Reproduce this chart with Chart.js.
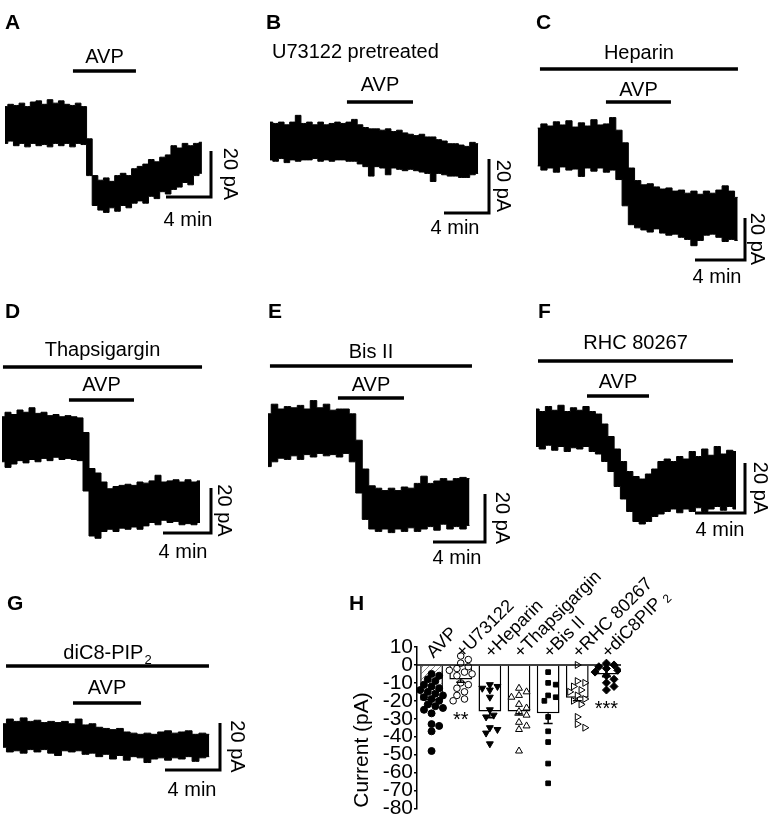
<!DOCTYPE html>
<html>
<head>
<meta charset="utf-8">
<script src="https://cdn.jsdelivr.net/npm/chart.js@4.4.1/dist/chart.umd.min.js"></script>
<style>
  body { margin: 0; background: #fff; }
  #fig { position: relative; width: 775px; height: 822px; overflow: hidden; }
  #fig canvas { position: absolute; }
</style>
</head>
<body>
<div id="fig"></div>
<script>
// ---- traces: upper / lower envelope of the current (pA), one sample every 0.5 min
const STEP_MIN = 0.5;
const SCALE_MIN = 4;   // horizontal scale bar
const SCALE_PA = 20;   // vertical scale bar

const upperA = [8,9,8.5,9.5,8,10,10.5,9,11,9.5,10.5,9,8.5,9.5,8,-6,-22,-24,-23,-24.5,-22,-21,-22,-19,-18,-17,-15,-16,-14,-13,-9,-10,-8,-9,-8,-7.5];
const lowerA = [-8,-7,-9,-8,-9.5,-8,-9,-8.5,-9.5,-8,-9,-8,-9.5,-8,-8.5,-22,-35,-37,-38,-36,-37.5,-35,-36,-34,-33,-34,-31,-32,-29,-30,-28,-27,-25,-26,-22,-21];

const upperB = [7,6.5,7,6,7,9.5,6.5,7,6,7,6,6.5,7,6.5,7,8,6,5,4.5,4.5,4,4.5,3.5,4,3,2.5,2,2.5,1.5,1.5,0.5,0,-1,-1,-1.5,-2,-0.5,-1];
const lowerB = [-7,-7.5,-6.5,-8,-7,-7.5,-7,-7,-6.5,-7.5,-7,-7.5,-7,-7,-7.5,-7.5,-8.5,-9.5,-13,-9.5,-10,-12.5,-10,-10.5,-11,-10.5,-11,-11.5,-12,-15,-12,-12.5,-13,-13,-13.5,-13.5,-12.5,-12];

const upperC = [9,11,10,12,10.5,12.5,9.5,11.5,10,13,10.5,11,14,8,2,-10,-16,-18,-17.5,-19,-20,-19.5,-21,-20.5,-22,-21,-22.5,-21,-22,-20.5,-18.5,-21,-24];
const lowerC = [-9,-11,-10,-12,-9.5,-11,-10.5,-14,-10,-11.5,-10,-12,-11,-15.5,-28,-37,-38.5,-39.5,-40.5,-39,-41,-42,-41.5,-43,-44,-47,-44.5,-42,-41.5,-43,-45,-44,-44.5];

const upperD = [9,11,10,12,11,13,10.5,11,9.5,10,9,9.5,9,8.5,2,-14,-16,-20,-23,-22,-21.5,-21,-21.5,-20,-20.5,-19.5,-17,-20,-19.5,-19,-20,-19,-20,-19.5];
const lowerD = [-11,-13.5,-12,-10.5,-11.5,-10,-11,-9.5,-10.5,-9,-10,-9.5,-10,-10.5,-24,-44,-45,-42,-41,-42,-40.5,-41,-40,-41,-39.5,-38,-39,-37,-38,-37.5,-39,-38.5,-39,-38];

const upperE = [8,12,10,11,10.5,11.5,10,13.5,10.5,12,9.5,10,10,8,-3,-15,-22,-23,-24,-23,-24,-22.5,-23,-21,-18,-21,-20,-19,-20,-19,-18.5,-19];
const lowerE = [-14,-12,-10.5,-11,-9.5,-11,-9,-10,-8.5,-9.5,-9,-10,-8.5,-12,-25,-36,-40,-41,-40,-41.5,-40,-41,-39.5,-41,-40,-39,-40.5,-38,-40,-39,-40,-38.5];

const upperF = [8,7,9,7.5,9.5,7,8.5,7.5,9,7,6,2,-3,-8,-13,-17,-19,-20,-18,-16,-13,-12,-13,-11,-12,-9,-11,-8,-10.5,-7,-10,-8.5,-9];
const lowerF = [-7,-8,-6.5,-8.5,-7,-9,-7.5,-8,-7,-9,-10,-13,-17,-23,-28,-33,-37,-38,-37,-35,-34,-33,-32,-33.5,-32,-33,-31.5,-33,-32,-31,-32.5,-31,-32];

const upperG = [5,7,6,7.5,6,6.5,5.5,6,5.5,6,5,7,4.5,5,3.5,3,2.5,3,1.5,1,0.5,1,0.5,1.5,2,1,1.5,2,0.5,1,0.5];
const lowerG = [-5,-7,-6.5,-7.5,-6,-7,-6,-7.5,-8.5,-6.5,-7,-6.5,-8,-7.5,-9,-8,-10,-8.5,-10.5,-9,-9.5,-11.5,-10,-9.5,-10.5,-9.5,-10,-9,-11,-9.5,-9];

// drug applications (min), panels A..G
const drugNames = ['', 'U73122 pretreated', 'Heparin', 'Thapsigargin', 'Bis II', 'RHC 80267', 'diC8-PIP'];
const drugSub   = ['', '', '', '', '', '', '2'];
const drugOn    = [null, null, 0.18, 0.08, 0.15, 0.16, 0.22];
const drugOff   = [null, null, 16.02, 16.67, 15.69, 15.76, 14.98];
const avpOn     = [6.04, 6.84, 5.46, 5.58, 5.38, 4.08, 5.09];
const avpOff    = [11.64, 12.71, 10.66, 11.0, 10.46, 9.04, 10.04];

// ---- panel H: AVP-induced current (pA)
const groupNames = ['AVP', '+U73122', '+Heparin', '+Thapsigargin', '+Bis II', '+RHC 80267', '+diC8PIP'];
const groupSub   = ['', '', '', '', '', '', '2'];
const groupMeans = [-19.8, -8.1, -25.9, -25.9, -27, -18.3, -5.4];
const groupSem   = [2.3, 1.5, 3.6, 2, 5.7, 1.7, 1.2];
const ptsAVP  = [-5,-6,-8,-9,-11,-12,-13,-14,-15,-16,-17,-18,-19,-20,-22,-23,-24,-25,-27,-33,-34,-37,-48];
const ptsU    = [5,3,1,-1,-2,-3,-4,-5,-6,-10,-11,-13,-15,-17,-19,-20];
const ptsHep  = [-11,-12,-13,-14,-18,-25,-28,-29,-35,-36,-38,-44];
const ptsThap = [-13,-15,-17,-18,-22,-24,-26,-28,-32,-34,-36,-48];
const ptsBis  = [-4,-10,-11,-17,-18,-20,-29,-37,-43,-55,-66];
const ptsRHC  = [0,-9,-10,-12,-14,-15,-17,-19,-20,-22,-29,-33,-35];
const ptsDiC8 = [1,0,-1,-2,-3,-4,-6,-8,-10,-12,-14];
const groupPoints = [ptsAVP, ptsU, ptsHep, ptsThap, ptsBis, ptsRHC, ptsDiC8];
const sigMarks = ['', '**', '', '', '', '', '***'];
const yMin = -80, yMax = 10, yStep = 10;

const FONT = '"Liberation Sans", Arial, Helvetica, sans-serif';
Chart.defaults.font.family = FONT;
Chart.defaults.color = '#000';

const fig = document.getElementById('fig');
function makeCanvas(box) {
  const cv = document.createElement('canvas');
  cv.width = box[2]; cv.height = box[3];
  cv.style.left = box[0] + 'px'; cv.style.top = box[1] + 'px';
  fig.appendChild(cv);
  return cv;
}

// page layout of the trace panels (pixels)
const panels = [
  {id:'A', upper:upperA, lower:lowerA, box:[0,0,262,240], x0:5, y0:125, pxMin:11.25, pxPA:2.3,
   letter:[5,23], avpY:71, avpTextY:57, corner:[211,197], paDx:19, minText:[188,220]},
  {id:'B', upper:upperB, lower:lowerB, box:[262,0,263,240], x0:270, y0:141, pxMin:11.25, pxPA:2.7,
   letter:[266,23], drugText:[272,52], avpY:102, avpTextY:85, corner:[489,213], paDx:14, minText:[455,228]},
  {id:'C', upper:upperC, lower:lowerC, box:[525,0,250,295], x0:537.7, y0:147, pxMin:12.5, pxPA:2.1,
   letter:[536,23], drugY:69, drugTextY:53, avpY:102, avpTextY:90, corner:[745,260], paDx:12, minText:[717,277]},
  {id:'D', upper:upperD, lower:lowerD, box:[0,295,262,275], x0:2, y0:437, pxMin:12, pxPA:2.25,
   letter:[5,312], drugY:367, drugTextY:350, avpY:400, avpTextY:385, corner:[211,533], paDx:13, minText:[183,552]},
  {id:'E', upper:upperE, lower:lowerE, box:[262,295,263,275], x0:268, y0:433, pxMin:13, pxPA:2.4,
   letter:[268,312], drugY:366, drugTextY:352, avpY:398, avpTextY:385, corner:[485,542], paDx:17, minText:[457,558]},
  {id:'F', upper:upperF, lower:lowerF, box:[525,295,250,250], x0:536, y0:429, pxMin:12.5, pxPA:2.5,
   letter:[538,312], drugY:361, drugTextY:343, avpY:396, avpTextY:382, corner:[745,513], paDx:15, minText:[720,530]},
  {id:'G', upper:upperG, lower:lowerG, box:[0,590,262,232], x0:3, y0:735.5, pxMin:13.75, pxPA:2.35,
   letter:[7,604], drugY:666, drugTextY:653, avpY:703, avpTextY:688, corner:[220,770], paDx:17, minText:[192,790]},
];

// text with an optional subscript, centred or left aligned
function subText(ctx, main, sub, x, y, align, size) {
  ctx.font = size + 'px ' + FONT;
  const w = ctx.measureText(main).width;
  ctx.font = Math.round(size * 0.65) + 'px ' + FONT;
  const ws = sub ? ctx.measureText(sub).width + 1 : 0;
  const start = align === 'center' ? x - (w + ws) / 2 : x;
  ctx.textAlign = 'left';
  ctx.font = size + 'px ' + FONT;
  ctx.fillText(main, start, y);
  if (sub) {
    ctx.font = Math.round(size * 0.65) + 'px ' + FONT;
    ctx.fillText(sub, start + w + 1, y + size * 0.35);
  }
}

function decor(p, i) {
  return {
    id: 'decor' + p.id,
    afterDraw(chart) {
      const ctx = chart.ctx, xs = chart.scales.x, ys = chart.scales.y;
      const L = p.box[0], T = p.box[1];
      ctx.save();
      ctx.fillStyle = '#000';
      ctx.strokeStyle = '#000';
      ctx.textBaseline = 'middle';
      ctx.textAlign = 'left';
      ctx.font = 'bold 21px ' + FONT;
      ctx.fillText(p.id, p.letter[0] - L, p.letter[1] - T);

      const hbar = (t0, t1, y) => {
        ctx.lineWidth = 3.5;
        ctx.beginPath();
        ctx.moveTo(xs.getPixelForValue(t0), y - T);
        ctx.lineTo(xs.getPixelForValue(t1), y - T);
        ctx.stroke();
      };
      if (drugOn[i] !== null) {
        hbar(drugOn[i], drugOff[i], p.drugY);
        const cx = (xs.getPixelForValue(drugOn[i]) + xs.getPixelForValue(drugOff[i])) / 2;
        subText(ctx, drugNames[i], drugSub[i], cx, p.drugTextY - T, 'center', 20);
      } else if (drugNames[i]) {
        subText(ctx, drugNames[i], drugSub[i], p.drugText[0] - L, p.drugText[1] - T, 'left', 20);
      }
      hbar(avpOn[i], avpOff[i], p.avpY);
      const ax = (xs.getPixelForValue(avpOn[i]) + xs.getPixelForValue(avpOff[i])) / 2;
      subText(ctx, 'AVP', '', ax, p.avpTextY - T, 'center', 20);

      // scale bar
      const cx = p.corner[0] - L, cy = p.corner[1] - T;
      const tc = xs.getValueForPixel(cx), vc = ys.getValueForPixel(cy);
      const left = xs.getPixelForValue(tc - SCALE_MIN);
      const top = ys.getPixelForValue(vc + SCALE_PA);
      ctx.lineWidth = 3;
      ctx.lineJoin = 'miter';
      ctx.beginPath();
      ctx.moveTo(left, cy);
      ctx.lineTo(cx, cy);
      ctx.lineTo(cx, top);
      ctx.stroke();
      ctx.font = '20px ' + FONT;
      ctx.textAlign = 'center';
      ctx.fillText(SCALE_MIN + ' min', p.minText[0] - L, p.minText[1] - T);
      ctx.save();
      ctx.translate(cx + p.paDx, (cy + top) / 2);
      ctx.rotate(Math.PI / 2);
      ctx.fillText(SCALE_PA + ' pA', 0, 0);
      ctx.restore();
      ctx.restore();
    }
  };
}

panels.forEach((p, i) => {
  const [L, T, W, H] = p.box;
  const cv = makeCanvas(p.box);
  const pts = arr => arr.map((v, k) => ({x: k * STEP_MIN, y: v}));
  new Chart(cv, {
    type: 'line',
    data: {
      datasets: [
        {data: pts(p.upper), fill: '+1', backgroundColor: '#000', borderColor: '#000',
         borderWidth: 1, pointRadius: 0, stepped: 'middle'},
        {data: pts(p.lower), fill: false, borderColor: '#000',
         borderWidth: 1, pointRadius: 0, stepped: 'middle'}
      ]
    },
    options: {
      responsive: false, animation: false, events: [],
      layout: {padding: 0},
      plugins: {legend: {display: false}, tooltip: {enabled: false}},
      scales: {
        x: {type: 'linear', display: false, min: (L - p.x0) / p.pxMin, max: (L + W - p.x0) / p.pxMin},
        y: {type: 'linear', display: false, min: (p.y0 - T - H) / p.pxPA, max: (p.y0 - T) / p.pxPA}
      }
    },
    plugins: [decor(p, i)]
  });
});

// ---- panel H
const boxH = [340, 545, 435, 277];
const cvH = makeCanvas(boxH);

const hatchCv = document.createElement('canvas');
hatchCv.width = 6; hatchCv.height = 6;
const hc = hatchCv.getContext('2d');
hc.fillStyle = '#fff'; hc.fillRect(0, 0, 6, 6);
hc.strokeStyle = '#8a8a8a'; hc.lineWidth = 1;
hc.beginPath();
hc.moveTo(0, 6); hc.lineTo(6, 0);
hc.moveTo(-1, 1); hc.lineTo(1, -1);
hc.moveTo(5, 7); hc.lineTo(7, 5);
hc.stroke();
const hatch = cvH.getContext('2d').createPattern(hatchCv, 'repeat');

// deterministic swarm so overlapping markers spread sideways
function swarm(vals) {
  const pxY = 166 / (yMax - yMin), pxX = 29.1, d = 6, step = 0.13;
  const placed = [];
  return vals.map(v => {
    let best = 0, bestGap = -1;
    for (const c of [0, 1, -1, 2, -2, 3, -3]) {
      const o = c * step;
      const gap = placed.reduce((m, q) => Math.min(m, Math.hypot((q.o - o) * pxX, (q.v - v) * pxY)), Infinity);
      if (gap >= d) { best = o; bestGap = gap; break; }
      if (gap > bestGap) { best = o; bestGap = gap; }
    }
    placed.push({o: best, v});
    return best;
  });
}

const markers = [
  {style: 'circle', r: 3.5, fill: true},
  {style: 'circle', r: 3.3, fill: false},
  {style: 'triangle', rot: 180, r: 4, fill: true},
  {style: 'triangle', rot: 0, r: 4, fill: false},
  {style: 'rect', r: 3.3, fill: true},
  {style: 'triangle', rot: 90, r: 4, fill: false},
  {style: 'rectRot', r: 4, fill: true}
];

const scatterSets = groupPoints.map((vals, g) => {
  const offs = swarm(vals);
  const m = markers[g];
  return {
    type: 'scatter', xAxisID: 'x', yAxisID: 'y', order: 1,
    data: vals.map((v, j) => ({x: g + offs[j], y: v})),
    pointStyle: m.style, rotation: m.rot || 0, radius: m.r,
    backgroundColor: m.fill ? '#000' : '#fff', borderColor: '#000', borderWidth: 1
  };
});

const decorH = {
  id: 'decorH',
  afterDatasetsDraw(chart) {
    const ctx = chart.ctx, ys = chart.scales.y, area = chart.chartArea;
    const bars = chart.getDatasetMeta(0).data;
    ctx.save();
    ctx.strokeStyle = '#000';
    ctx.lineWidth = 1.5;
    ctx.beginPath();
    ctx.moveTo(area.left, ys.getPixelForValue(0));
    ctx.lineTo(area.right, ys.getPixelForValue(0));
    ctx.stroke();
    bars.forEach((b, i) => {
      const y1 = ys.getPixelForValue(groupMeans[i]);
      const y2 = ys.getPixelForValue(groupMeans[i] - groupSem[i]);
      ctx.beginPath();
      ctx.moveTo(b.x, y1); ctx.lineTo(b.x, y2);
      ctx.moveTo(b.x - 4.5, y2); ctx.lineTo(b.x + 4.5, y2);
      ctx.stroke();
    });
    ctx.restore();
  },
  afterDraw(chart) {
    const ctx = chart.ctx, xs = chart.scales.x, ys = chart.scales.y;
    const L = boxH[0], T = boxH[1];
    ctx.save();
    ctx.fillStyle = '#000';
    ctx.textBaseline = 'middle';
    ctx.textAlign = 'left';
    ctx.font = 'bold 21px ' + FONT;
    ctx.fillText('H', 349 - L, 604 - T);

    ctx.textBaseline = 'alphabetic';
    groupNames.forEach((name, i) => {
      ctx.save();
      ctx.translate(xs.getPixelForValue(i) + 2, ys.getPixelForValue(3.5));
      ctx.rotate(-Math.PI / 4);
      ctx.font = '18px ' + FONT;
      ctx.fillText(name, 0, 0);
      if (groupSub[i]) {
        const w = ctx.measureText(name).width;
        ctx.font = '12px ' + FONT;
        ctx.fillText(groupSub[i], w + 4, 3);
      }
      ctx.restore();
      if (sigMarks[i]) {
        ctx.font = '20px ' + FONT;
        ctx.textAlign = 'center';
        const low = Math.min(...groupPoints[i]);
        ctx.fillText(sigMarks[i], xs.getPixelForValue(i), ys.getPixelForValue(low - 8) + 11);
        ctx.textAlign = 'left';
      }
    });

    ctx.save();
    ctx.translate(362 - L, 750 - T);
    ctx.rotate(-Math.PI / 2);
    ctx.textAlign = 'center';
    ctx.textBaseline = 'middle';
    ctx.font = '21px ' + FONT;
    ctx.fillText('Current (pA)', 0, 0);
    ctx.restore();
    ctx.restore();
  }
};

new Chart(cvH, {
  type: 'bar',
  data: {
    datasets: [
      {type: 'bar', data: groupMeans.map((v, i) => ({x: i, y: v})), xAxisID: 'x', yAxisID: 'y', order: 2,
       backgroundColor: groupMeans.map((_, i) => i === 0 ? hatch : '#fff'),
       borderColor: '#000', borderWidth: 1.5, barPercentage: 0.78, categoryPercentage: 1},
      ...scatterSets
    ]
  },
  options: {
    responsive: false, animation: false, events: [],
    layout: {padding: {top: 102, right: 154, bottom: 9, left: 0}},
    plugins: {legend: {display: false}, tooltip: {enabled: false}},
    scales: {
      x: {type: 'linear', display: false, min: -0.5, max: 6.5, offset: false, grid: {offset: false}},
      y: {
        type: 'linear', min: yMin, max: yMax,
        afterFit(s) { s.width = 77; },
        ticks: {stepSize: yStep, autoSkip: false, padding: 1, color: '#000', font: {size: 21}},
        grid: {display: true, drawOnChartArea: false, drawTicks: true, tickLength: 3, color: '#000', lineWidth: 1.5},
        border: {display: true, color: '#000', width: 1.5}
      }
    }
  },
  plugins: [decorH]
});
</script>
</body>
</html>
